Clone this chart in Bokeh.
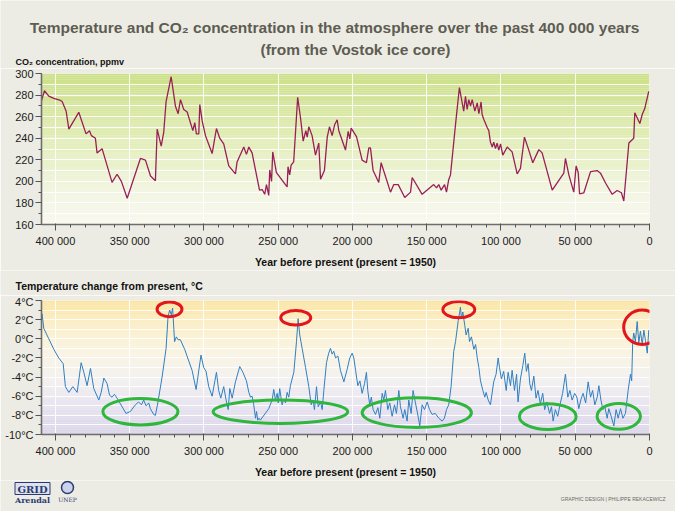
import numpy as np
from bokeh.plotting import figure
from bokeh.layouts import column
from bokeh.models import Range1d, FixedTicker
from bokeh.embed import file_html
from bokeh.resources import INLINE
from bokeh.core.properties import value

# ---------------- texts ----------------
title_line1 = "Temperature and CO₂ concentration in the atmosphere over the past 400 000 years"
title_line2 = "(from the Vostok ice core)"
co2_heading = "CO₂ concentration, ppmv"
temp_heading = "Temperature change from present, °C"
x_axis_title = "Year before present (present = 1950)"
credit_text = "GRAPHIC DESIGN | PHILIPPE REKACEWICZ"
logo_texts = ["GRID", "Arendal", "UNEP"]

# ---------------- ticks ----------------
year_ticks_kyr = [400, 350, 300, 250, 200, 150, 100, 50, 0]
year_tick_labels = ["400 000", "350 000", "300 000", "250 000", "200 000",
                    "150 000", "100 000", "50 000", "0"]
co2_ticks = [160, 180, 200, 220, 240, 260, 280, 300]
temp_ticks = [-10, -8, -6, -4, -2, 0, 2, 4]
temp_tick_labels = ["-10°C", "-8°C", "-6°C", "-4°C", "-2°C", "0°C", "2°C", "4°C"]

# ---------------- data: CO2 (thousand years before present, ppmv) ----------------
co2_years_kyr = [409.6, 407.4, 404.5, 401.1, 396.6, 395.5, 392.8, 391.0, 384.3, 379.4,
                 377.1, 375.8, 373.1, 372.0, 368.6, 361.9, 358.5, 355.6, 351.7, 342.8,
                 339.4, 336.0, 332.7, 331.5, 328.8, 327.1, 325.5, 322.1, 319.2, 317.4,
                 315.8, 313.6, 311.3, 307.5, 306.2, 305.1, 303.5, 302.8, 301.2, 299.0,
                 294.5, 291.6, 289.4, 286.7, 283.3, 278.8, 277.7, 273.2, 271.4, 269.8,
                 267.6, 262.6, 260.8, 259.1, 257.9, 256.4, 255.7, 254.5, 253.7, 251.2,
                 244.0, 243.4, 242.3, 241.3, 239.6, 236.9, 235.0, 233.2, 231.4, 230.5,
                 229.4, 227.2, 224.9, 222.7, 221.5, 218.9, 217.0, 215.5, 213.7, 211.9,
                 210.3, 209.2, 204.7, 202.9, 201.8, 200.9, 197.3, 193.5, 190.6, 189.0,
                 187.9, 186.1, 182.3, 180.7, 174.4, 172.2, 169.2, 164.8, 160.9, 159.8,
                 153.1, 145.3, 143.4, 141.9, 140.3, 138.0, 136.7, 135.2, 134.0, 130.6,
                 128.0, 125.1, 123.9, 122.8, 121.7, 120.5, 119.4, 117.6, 116.0, 114.9,
                 113.4, 112.7, 111.6, 109.3, 108.2, 107.1, 105.9, 104.9, 103.7, 102.6,
                 101.5, 100.3, 98.8, 95.8, 92.5, 89.1, 86.9, 84.2, 81.3, 78.6,
                 76.8, 74.5, 72.3, 65.5, 57.7, 56.6, 54.3, 51.0, 49.4, 48.0,
                 47.1, 44.2, 39.7, 35.2, 33.0, 29.6, 25.1, 21.8, 18.9, 17.3,
                 13.9, 10.6, 9.9, 6.5, 4.9, 3.2, 0.5]
co2_ppmv = [274, 284, 279, 277, 275, 274, 265, 248.5, 264, 244,
            247, 242.4, 240, 226.4, 230.3, 199, 206.6, 200, 184.3, 221.2,
            219.7, 205, 200.6, 248.5, 232.7, 245.5, 274, 297, 269.7, 262.7,
            275.8, 266.6, 264.3, 247, 254.5, 244, 244, 271.2, 256, 242.4,
            225.8, 249, 240, 234.8, 214.3, 207, 218, 231.8, 225, 231.8,
            226.4, 191.8, 192.4, 188, 197, 187, 210.6, 200, 227.3, 208.2,
            194.8, 213.6, 206, 215, 218, 278, 259, 237.3, 247, 241,
            250.6, 242.4, 224.3, 235.5, 202, 210, 241, 250.6, 242.4, 253,
            257, 247, 229, 246.4, 239.4, 249.4, 241.5, 219.7, 217.3, 231,
            231, 210, 199, 217.3, 190, 197, 197, 185, 190, 203.6,
            188, 197, 194, 197, 191.8, 197, 190, 201.5, 206, 253,
            287, 265, 278.8, 266.7, 275.8, 269.7, 275.8, 265.2, 272.7, 262.7,
            273.6, 262, 257.6, 250, 247, 236.4, 231.8, 236.4, 230.3, 235.5,
            229, 234.8, 224.3, 231.8, 227.3, 207, 212, 241, 229, 217.3,
            222.7, 229.4, 226.4, 191.8, 207.6, 221.2, 206, 190, 214.3, 208.2,
            188.5, 189.4, 209, 210, 207.6, 198.5, 188, 191.5, 189.4, 181.8,
            235.5, 240, 263.6, 253.6, 262, 267.5, 283.4]

# ---------------- data: temperature change (thousand years BP, deg C) ----------------
temp_years_kyr = [409.6, 409.0, 407.9, 404.5, 401.1, 397.8, 394.8, 393.3, 391.0, 388.3,
                  385.4, 382.7, 380.9, 378.7, 376.4, 374.2, 370.8, 369.2, 367.4, 365.2,
                  363.6, 361.9, 360.3, 358.5, 352.5, 349.6, 346.2, 344.0, 342.1, 340.6,
                  339.0, 337.2, 336.1, 333.9, 332.7, 331.1, 328.2, 325.5, 324.2, 323.1,
                  322.0, 321.1, 319.8, 318.6, 317.5, 315.9, 313.0, 308.0, 305.3, 302.0,
                  300.2, 298.6, 296.8, 294.5, 291.6, 290.1, 288.7, 286.7, 285.1, 283.7,
                  282.6, 281.0, 278.8, 275.9, 273.8, 271.4, 269.8, 268.7, 267.6, 266.5,
                  265.3, 264.6, 263.8, 263.0, 262.0, 256.4, 254.1, 253.0, 251.9, 250.7,
                  250.0, 249.0, 247.4, 246.3, 245.1, 244.0, 242.9, 241.8, 239.5, 237.7,
                  236.6, 235.5, 233.9, 231.6, 229.4, 227.8, 226.5, 225.6, 224.2, 223.1,
                  221.5, 220.4, 219.3, 217.5, 216.0, 214.8, 213.7, 212.6, 211.4, 209.8,
                  208.1, 205.8, 203.6, 201.8, 200.2, 199.1, 197.9, 196.4, 195.0, 193.5,
                  191.9, 190.6, 189.7, 188.4, 187.3, 186.1, 184.5, 182.9, 181.6, 180.0,
                  178.9, 177.8, 176.2, 174.9, 173.3, 171.7, 170.4, 168.8, 167.7, 165.9,
                  164.8, 163.2, 162.1, 160.5, 159.2, 157.6, 155.8, 154.7, 153.1, 151.5,
                  149.7, 148.1, 146.4, 144.2, 141.9, 139.6, 138.1, 136.7, 135.2, 133.6,
                  131.8, 130.6, 128.8, 128.0, 127.3, 126.6, 125.7, 124.4, 123.5, 122.1,
                  121.2, 119.9, 118.3, 117.1, 116.0, 114.9, 113.8, 112.2, 110.9, 110.0,
                  108.6, 107.1, 104.9, 103.3, 101.9, 101.0, 99.7, 98.2, 96.5, 95.2,
                  93.6, 92.5, 90.9, 89.5, 88.5, 86.9, 85.3, 84.0, 82.9, 81.7,
                  80.6, 79.5, 77.9, 76.4, 75.1, 73.5, 71.9, 70.6, 69.1, 67.3,
                  66.0, 64.9, 63.4, 61.8, 60.0, 58.5, 56.6, 55.0, 53.6, 52.1,
                  50.4, 48.9, 47.6, 46.1, 44.7, 43.0, 41.3, 39.7, 38.3, 36.8,
                  35.2, 34.1, 32.7, 31.4, 30.1, 28.5, 27.4, 25.8, 24.0, 22.5,
                  21.1, 19.5, 17.9, 16.2, 14.4, 12.8, 12.0, 11.3, 10.6, 9.5,
                  8.3, 7.2, 6.1, 4.9, 3.8, 2.7, 1.5, 0.5]
temp_change_c = [2.3, 2.6, 1.1, 0.0, -1.1, -2.0, -2.6, -5.0, -5.6, -5.0,
                 -5.6, -2.5, -3.5, -4.9, -3.1, -5.2, -6.4, -5.6, -4.1, -4.7,
                 -5.9, -6.1, -5.8, -6.2, -7.8, -7.6, -6.9, -6.6, -6.9, -6.4,
                 -7.0, -6.7, -7.3, -7.9, -8.0, -6.7, -4.0, -1.0, 2.3, 3.0,
                 2.5, 3.2, -0.3, 0.2, -0.1, -0.1, -1.1, -3.3, -5.3, -1.7,
                 -3.0, -3.4, -5.0, -6.0, -3.5, -5.4, -6.2, -5.0, -6.4, -7.4,
                 -5.2, -6.2, -4.5, -2.9, -3.5, -4.4, -5.6, -6.1, -6.0, -6.9,
                 -8.3, -7.6, -8.5, -8.3, -8.5, -7.3, -6.4, -5.3, -6.4, -5.7,
                 -6.7, -5.2, -6.9, -6.3, -6.7, -5.6, -6.1, -4.9, -3.5, -0.3,
                 2.1, 0.4, -1.0, -3.0, -5.0, -6.9, -6.4, -7.4, -5.0, -7.1,
                 -6.6, -7.4, -5.4, -2.5, -1.5, -1.0, -1.6, -1.3, -2.0, -1.8,
                 -3.3, -4.5, -3.2, -2.0, -1.5, -2.0, -3.3, -4.9, -4.4, -5.7,
                 -4.7, -3.5, -5.4, -6.9, -6.1, -7.4, -7.9, -7.2, -8.3, -5.7,
                 -6.4, -5.4, -7.4, -6.7, -8.1, -6.9, -7.8, -5.4, -7.1, -8.3,
                 -7.4, -8.6, -6.4, -7.8, -5.4, -6.7, -8.1, -9.1, -6.9, -7.4,
                 -6.6, -7.4, -7.9, -7.8, -8.3, -8.6, -8.3, -7.4, -6.9, -5.0,
                 -1.3, -0.3, 1.9, 2.6, 3.3, 2.1, 2.8, 1.4, 0.4, 1.1,
                 -0.3, 0.2, -1.1, -0.6, -2.0, -3.0, -4.4, -5.4, -6.1, -5.6,
                 -6.4, -6.9, -4.5, -3.7, -2.0, -3.0, -4.2, -3.4, -5.4, -3.5,
                 -4.9, -3.3, -5.4, -3.7, -6.6, -4.2, -2.8, -1.5, -3.4, -2.6,
                 -4.7, -5.4, -3.9, -6.2, -5.4, -6.8, -5.7, -7.4, -6.6, -7.8,
                 -7.1, -8.6, -7.4, -8.1, -6.7, -5.7, -3.7, -6.1, -5.4, -6.4,
                 -5.7, -6.1, -7.3, -6.3, -5.7, -6.7, -4.5, -6.1, -5.4, -6.9,
                 -6.1, -4.9, -6.4, -7.4, -7.1, -8.3, -7.3, -8.1, -9.1, -7.4,
                 -8.3, -7.3, -8.3, -7.8, -5.4, -3.7, -4.4, -0.3, 0.6, -0.3,
                 1.8, -0.4, 0.8, -0.6, 0.9, -0.2, -1.5, 0.9]

# ---------------- hand-drawn highlight ellipses (annotations) ----------------
red_ellipse_year = [323.2, 238.2, 128.4, 4.9]
red_ellipse_temp = [3.08, 2.2, 3.05, 1.2]
red_ellipse_w = [16.8, 20.2, 21.5, 25.0]
red_ellipse_h = [1.53, 1.53, 1.7, 3.6]
green_ellipse_year = [342.8, 248.5, 156.7, 68.5, 20.7]
green_ellipse_temp = [-7.62, -7.62, -7.72, -8.13, -8.1]
green_ellipse_w = [50.5, 90.6, 73.6, 38.2, 29.2]
green_ellipse_h = [2.75, 2.45, 3.1, 2.7, 2.7]

# ---------------- styling / geometry ----------------
SANS = "Liberation Sans"
SERIF = "DejaVu Serif"
PAGE_BG = "#edece4"
W = 675
BORDER_L, BORDER_R = 41, 26
X_START, X_END = 409.4, 0.0
CO2_MIN, CO2_MAX = 160, 300
T_MIN, T_MAX = -10, 4
NAVY = "#2b3b72"


def hexcol(rgb):
    return "#%02x%02x%02x" % tuple(int(round(c)) for c in rgb)


def gradient(fig, lo, hi, stops_v, stops_rgb, n=80):
    edges = np.linspace(lo, hi, n + 1)
    mids = (edges[:-1] + edges[1:]) / 2
    sv = np.array(stops_v, dtype=float)
    rgb = np.array(stops_rgb, dtype=float)
    cols = [hexcol([np.interp(m, sv, rgb[:, k]) for k in range(3)]) for m in mids]
    fig.quad(left=X_START, right=X_END, bottom=edges[:-1], top=edges[1:],
             fill_color=cols, line_color=None, level="image")


def style_axes(fig, yticks, ylabels, yminor):
    xa = fig.xaxis[0]
    xa.ticker = FixedTicker(ticks=year_ticks_kyr, minor_ticks=list(range(0, 410, 10)))
    xa.major_label_overrides = {t: l for t, l in zip(year_ticks_kyr, year_tick_labels)}
    xa.axis_label = x_axis_title
    xa.axis_label_text_font = SANS
    xa.axis_label_text_font_style = "bold"
    xa.axis_label_text_font_size = "10.5px"
    xa.axis_label_text_color = "#111111"
    xa.axis_label_standoff = 6
    ya = fig.yaxis[0]
    ya.ticker = FixedTicker(ticks=yticks, minor_ticks=yminor)
    if ylabels is not None:
        ya.major_label_overrides = {t: l for t, l in zip(yticks, ylabels)}
    for ax in (xa, ya):
        ax.axis_line_color = "#6e6e6e"
        ax.axis_line_width = 1.6
        ax.major_tick_line_color = "#555555"
        ax.minor_tick_line_color = "#555555"
        ax.major_label_text_font = SANS
        ax.major_label_text_font_size = "11px"
        ax.major_label_text_color = "#1a1a1a"
    xa.major_tick_out = 6
    xa.major_tick_in = 1
    xa.minor_tick_out = 3
    xa.minor_tick_in = 0
    xa.major_label_standoff = 4
    ya.major_tick_out = 6
    ya.major_tick_in = 0
    ya.minor_tick_out = 3
    ya.minor_tick_in = 0
    ya.major_label_standoff = 2
    fig.xgrid.ticker = FixedTicker(ticks=year_ticks_kyr)
    fig.ygrid.ticker = FixedTicker(ticks=yminor)
    for g in (fig.xgrid[0], fig.ygrid[0]):
        g.grid_line_color = "white"
        g.grid_line_width = 1
        g.grid_line_alpha = 0.9
    fig.outline_line_color = None


def text_strip(height):
    """A figure whose frame is the whole strip; coordinates are pixels, y downward."""
    f = figure(width=W, height=height, x_range=Range1d(0, W), y_range=Range1d(height, 0),
               output_backend="svg", toolbar_location=None, x_axis_location=None,
               y_axis_location=None, min_border=0, min_border_left=0, min_border_right=0,
               min_border_top=0, min_border_bottom=0, border_fill_color=PAGE_BG,
               background_fill_color=PAGE_BG, outline_line_color=None,
               frame_align=False)
    f.grid.visible = False
    return f


def put_text(fig, x, y, text, size, bold=False, color="#111111", align="left", font=SANS):
    fig.text(x=[x], y=[y], text=[text], text_font=value(font), text_font_size=value(size),
             text_font_style="bold" if bold else "normal", text_color=color,
             text_align=align, text_baseline="middle")


def chart(height, y0, y1, fill):
    return figure(width=W, height=height, x_range=Range1d(X_START, X_END),
                  y_range=Range1d(y0, y1), output_backend="svg",
                  toolbar_location=None, min_border_left=BORDER_L, min_border_right=BORDER_R,
                  min_border_top=5, min_border_bottom=43,
                  border_fill_color=PAGE_BG, background_fill_color=fill)


# ---------------- header strip (page y 0-68) ----------------
header = text_strip(68)
put_text(header, 334, 27, title_line1, "15.5px", bold=True, color="#5d5d53", align="center")
put_text(header, 355, 49, title_line2, "15.5px", bold=True, color="#5d5d53", align="center")
put_text(header, 15, 61, co2_heading, "9px", bold=True)

# ---------------- top figure: CO2 (page y 68-270) ----------------
top = chart(202, CO2_MIN, CO2_MAX, "#f7f7ee")
gradient(top, CO2_MIN, CO2_MAX, [160, 190, 230, 270, 300],
         [(249, 249, 240), (242, 245, 226), (228, 239, 190), (214, 230, 158), (203, 224, 136)])
style_axes(top, co2_ticks, None, list(range(160, 301, 10)))
top.line(co2_years_kyr, co2_ppmv, line_color="#9a1f57", line_width=1.3)

# ---------------- middle heading strip (page y 270-295) ----------------
mid = text_strip(25)
put_text(mid, 15, 15, temp_heading, "10.5px", bold=True)

# ---------------- bottom figure: temperature (page y 295-480) ----------------
bot = chart(185, T_MIN, T_MAX, "#f5f3ee")
gradient(bot, T_MIN, T_MAX, [-10, -7, -4, -1, 2, 4],
         [(218, 212, 233), (231, 227, 240), (244, 242, 240), (250, 244, 224),
          (252, 237, 192), (251, 229, 160)])
style_axes(bot, temp_ticks, temp_tick_labels, list(range(-10, 5, 1)))
bot.line(temp_years_kyr, temp_change_c, line_color="#2f7fc1", line_width=1)
bot.ellipse(x=red_ellipse_year, y=red_ellipse_temp, width=red_ellipse_w,
            height=red_ellipse_h, fill_color=None, line_color="#e3161d", line_width=3)
bot.ellipse(x=green_ellipse_year, y=green_ellipse_temp, width=green_ellipse_w,
            height=green_ellipse_h, fill_color=None, line_color="#2fb63c", line_width=3)

# ---------------- footer strip (page y 480-511) ----------------
footer = text_strip(31)
footer.rect(x=[32], y=[8], width=[35], height=[12], fill_color="#dde1ee",
            line_color=NAVY, line_width=1)
put_text(footer, 32, 8.5, logo_texts[0], "10px", bold=True, color=NAVY,
         align="center", font=SERIF)
put_text(footer, 32, 19, logo_texts[1], "8px", bold=True, color=NAVY,
         align="center", font=SERIF)
footer.scatter(x=[67], y=[7], marker="circle", size=12, fill_color="#c9d3ea",
               line_color=NAVY, line_width=1.5)
put_text(footer, 67, 19, logo_texts[2], "6px", color=NAVY, align="center", font=SERIF)
put_text(footer, 665, 18, credit_text, "5px", color="#6a6a6a", align="right")

layout = column(header, top, mid, bot, footer, spacing=0)
open("out.html", "w").write(file_html(layout, INLINE))
